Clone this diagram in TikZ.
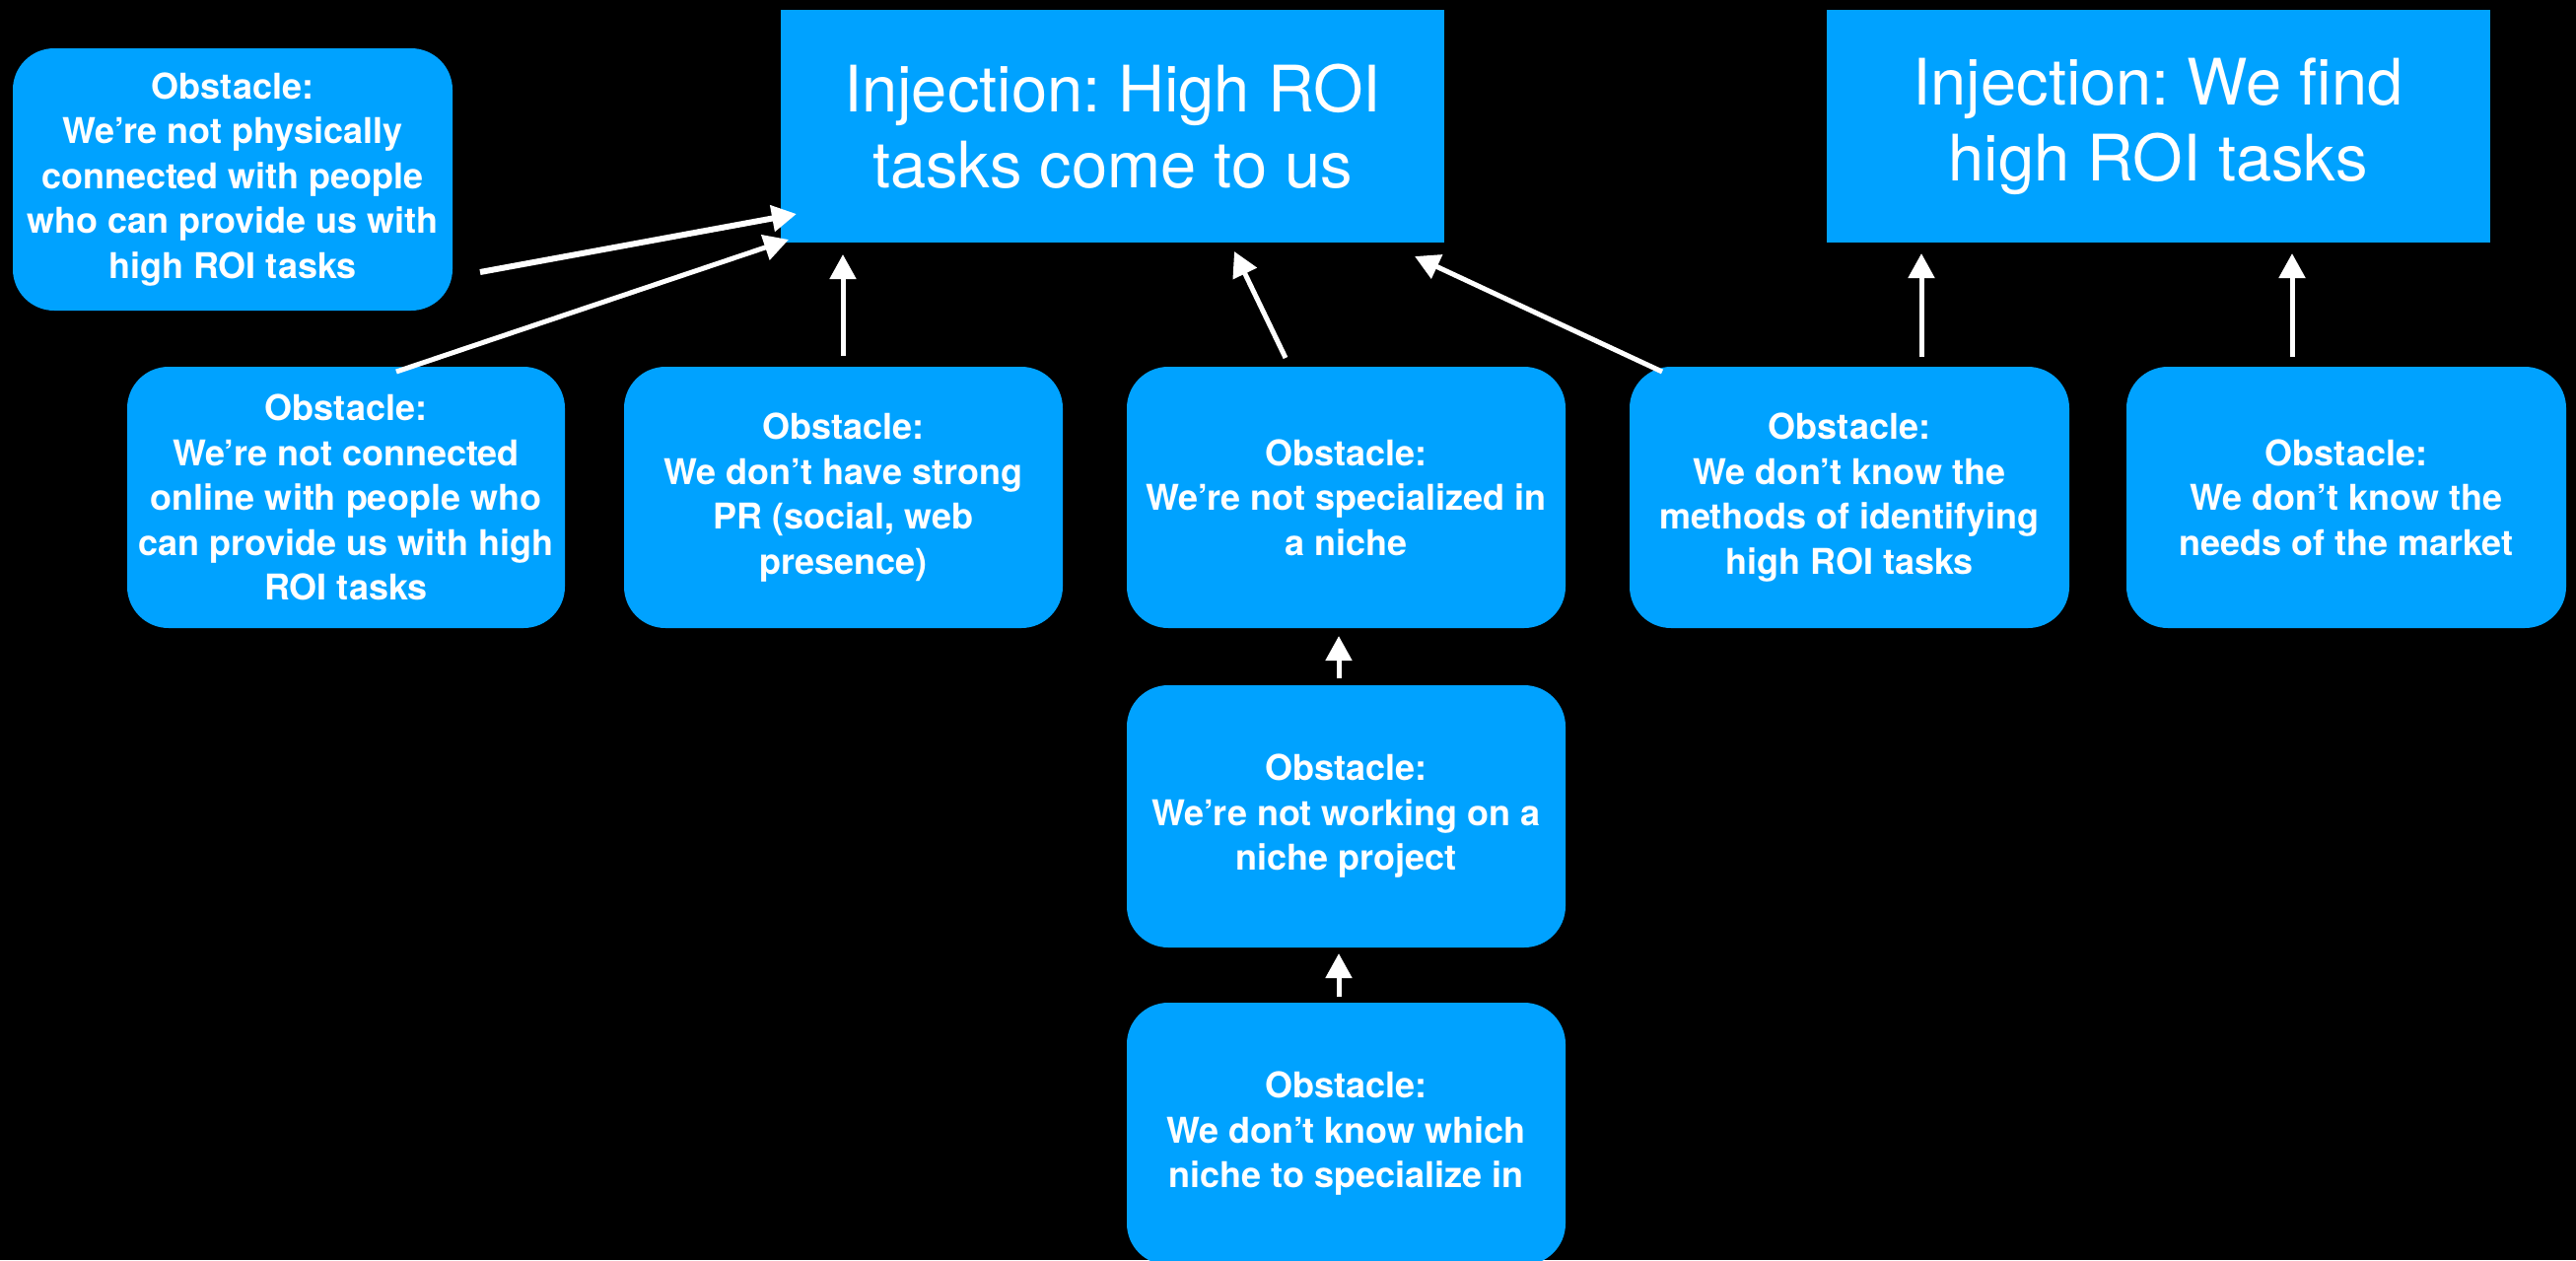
\documentclass[tikz,border=0pt]{standalone}
\usepackage{fontspec}
\setmainfont{TeX Gyre Heros}
\usetikzlibrary{arrows.meta}
\definecolor{boxblue}{RGB}{0,162,255}
\frenchspacing
\begin{document}
\begin{tikzpicture}[x=1pt,y=-1pt,
  obstacle/.style={fill=boxblue, text=white, rounded corners=42pt, inner sep=0pt,
    align=center, minimum width=445pt, minimum height=266pt,
    font=\fontsize{36}{45.5}\selectfont\bfseries},
  injection/.style={fill=boxblue, text=white, inner sep=0pt, align=center,
    minimum width=673pt, minimum height=236pt,
    font=\fontsize{65}{77}\selectfont},
  link/.style={draw=white, line width=5pt, -{Triangle[length=25pt,width=26pt]}}]

% page background
\fill[black] (0,0) rectangle (2613,1278);
\useasboundingbox (0,0) rectangle (2613,1278);

% injections
\node[injection] (inj1) at (1128.5,128) {Injection: High ROI\\tasks come to us};
\node[injection] (inj2) at (2189,128) {Injection: We find\\high ROI tasks};

% obstacles
\node[obstacle, minimum width=446pt] (phys) at (236,182)
  {Obstacle:\\We’re not physically\\connected with people\\who can provide us with\\high ROI tasks};
\node[obstacle, minimum width=444pt, minimum height=265pt] (online) at (351,504.5)
  {Obstacle:\\We’re not connected\\online with people who\\can provide us with high\\ROI tasks};
\node[obstacle, minimum height=265pt] (pr) at (855.5,504.5)
  {Obstacle:\\We don’t have strong\\PR (social, web\\presence)};
\node[obstacle, minimum height=265pt] (niche) at (1365.5,504.5)
  {Obstacle:\\We’re not specialized in\\a niche};
\node[obstacle, minimum width=446pt, minimum height=265pt] (methods) at (1876,504.5)
  {Obstacle:\\We don’t know the\\methods of identifying\\high ROI tasks};
\node[obstacle, minimum width=446pt, minimum height=265pt] (market) at (2380,504.5)
  {Obstacle:\\We don’t know the\\needs of the market};
\node[obstacle] (project) at (1365.5,828)
  {Obstacle:\\We’re not working on a\\niche project};
\node[obstacle] (which) at (1365.5,1150)
  {Obstacle:\\We don’t know which\\niche to specialize in};

% connector end points
\coordinate (physS) at (487,276);    \coordinate (physT) at (808,217);
\coordinate (onlineS) at (402,377);  \coordinate (onlineT) at (800,243);
\coordinate (prS) at (855,361);      \coordinate (prT) at (855,258);
\coordinate (nicheS) at (1304,363);  \coordinate (nicheT) at (1252,255);
\coordinate (methS) at (1686,377);   \coordinate (methT) at (1435,260);
\coordinate (methS2) at (1949,362);  \coordinate (methT2) at (1949,257);
\coordinate (markS) at (2325,362);   \coordinate (markT) at (2325,257);
\coordinate (projS) at (1358,688);   \coordinate (projT) at (1358,645);
\coordinate (whichS) at (1358,1011); \coordinate (whichT) at (1358,967);

% connectors
\draw[link, line width=6pt] (physS) -- (physT);
\draw[link] (onlineS) -- (onlineT);
\draw[link] (prS) -- (prT);
\draw[link] (nicheS) -- (nicheT);
\draw[link] (methS) -- (methT);
\draw[link] (methS2) -- (methT2);
\draw[link] (markS) -- (markT);
\draw[link] (projS) -- (projT);
\draw[link] (whichS) -- (whichT);
\end{tikzpicture}
\end{document}
